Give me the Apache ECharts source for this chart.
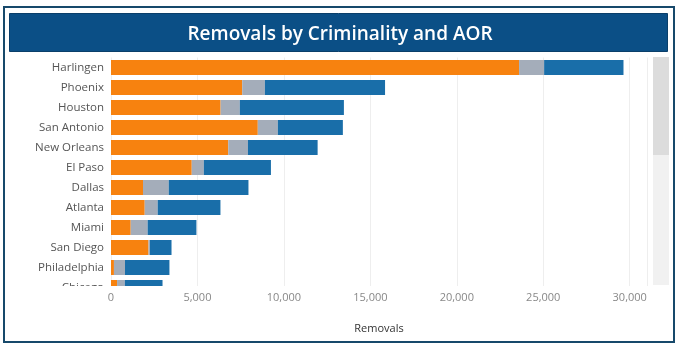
<!DOCTYPE html>
<html>
<head>
<meta charset="utf-8">
<script src="https://cdn.jsdelivr.net/npm/echarts@6/dist/echarts.min.js"></script>
<style>
  html, body { margin: 0; padding: 0; background: #fff; }
  #chart { width: 680px; height: 351px; }
</style>
</head>
<body>
<div id="chart"></div>
<script>
// AOR rows, top to bottom (last one is cut off by the scroll area)
const aors = ['Harlingen', 'Phoenix', 'Houston', 'San Antonio', 'New Orleans', 'El Paso',
              'Dallas', 'Atlanta', 'Miami', 'San Diego', 'Philadelphia', 'Chicago'];

// removals per criminality group
const convicted = [23600, 7590, 6340, 8490, 6780, 4670, 1850, 1950, 1140, 2170, 170, 350];
const pending   = [1450, 1310, 1110, 1160, 1140, 700, 1490, 750, 980, 80, 640, 450];
const other     = [4590, 6950, 6020, 3760, 4030, 3880, 4610, 3630, 2820, 1250, 2570, 2180];

const xTicks = [0, 5000, 10000, 15000, 20000, 25000, 30000];

const chartElement = document.getElementById('chart');
const chart = echarts.init(chartElement);

const font = '"Open Sans", sans-serif';

let option = {
    animation: false,
    title: {
        text: 'Removals by Criminality and AOR',
        left: 'center',
        top: 20,
        textStyle: { color: '#ffffff', fontSize: 19, fontWeight: 600, fontFamily: font }
    },
    graphic: [
        {
            type: 'rect', z: 0,
            shape: { x: 4, y: 7, width: 670, height: 335 },
            style: { fill: 'none', stroke: '#17496b', lineWidth: 2 }
        },
        {
            type: 'rect', z: 1,
            shape: { x: 9.5, y: 13.5, width: 658, height: 38 },
            style: { fill: '#0b4f86', stroke: '#0a3f6a', lineWidth: 1 }
        },
        {
            // scroll track + thumb
            type: 'rect', z: 1,
            shape: { x: 653, y: 57, width: 16, height: 228 },
            style: { fill: '#f1f1f1' }
        },
        {
            type: 'rect', z: 1,
            shape: { x: 653, y: 57, width: 16, height: 98 },
            style: { fill: '#dcdcdc' }
        },
        {
            // hides the part of the last row below the scroll area
            type: 'rect', z: 100,
            shape: { x: 20, y: 286, width: 630, height: 14 },
            style: { fill: '#ffffff' }
        }
    ],
    grid: {
        left: 111,
        right: 33,
        top: 57.5,
        height: 240
    },
    xAxis: [
        {
            type: 'value',
            min: 0,
            max: 31000,
            interval: 5000,
            axisLine: { show: false },
            axisTick: { show: false },
            axisLabel: { show: false },
            splitLine: { lineStyle: { color: '#eeeeee', width: 1 } }
        },
        {
            type: 'value',
            position: 'bottom',
            offset: -12,
            z: 200,
            min: 0,
            max: 31000,
            interval: 5000,
            name: 'Removals',
            nameLocation: 'middle',
            nameGap: 38,
            nameTextStyle: { color: '#333333', fontSize: 11, fontFamily: font },
            axisLine: { show: false },
            axisTick: { show: false },
            splitLine: { show: false },
            axisLabel: {
                color: '#888888',
                fontSize: 11,
                fontFamily: font,
                margin: 7,
                showMaxLabel: false,
                formatter: v => xTicks.includes(v) ? v.toLocaleString('en-US') : ''
            }
        }
    ],
    yAxis: {
        type: 'category',
        inverse: true,
        data: aors,
        axisLine: { show: false },
        axisTick: { show: false },
        axisLabel: { color: '#555555', fontSize: 11.5, fontFamily: font, margin: 7 }
    },
    series: [
        {
            name: 'Convicted', type: 'bar', stack: 'total', barCategoryGap: '25%',
            itemStyle: { color: '#f7820f' }, data: convicted
        },
        {
            name: 'Pending', type: 'bar', stack: 'total',
            itemStyle: { color: '#a4adba' }, data: pending
        },
        {
            name: 'Other', type: 'bar', stack: 'total',
            itemStyle: { color: '#196ea9' }, data: other
        }
    ]
};

chart.setOption(option);
</script>
</body>
</html>
